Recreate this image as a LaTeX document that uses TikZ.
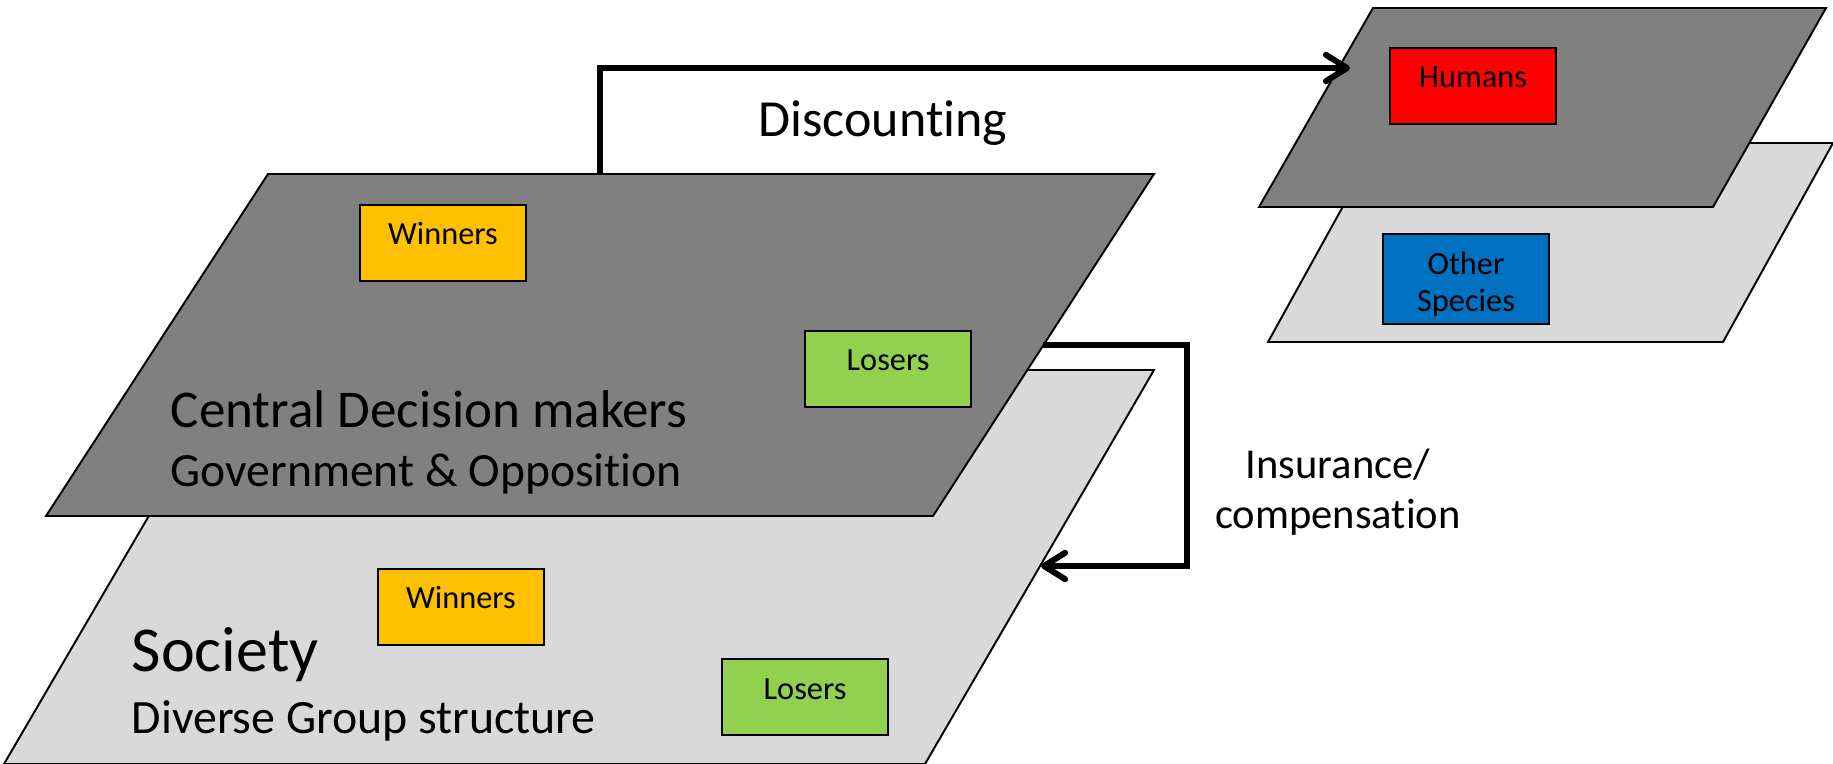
\documentclass[tikz,border=0pt]{standalone}
\usepackage{fontspec}
\setmainfont{Carlito}[Ligatures=NoCommon]
\usetikzlibrary{arrows.meta,positioning}
\definecolor{planedark}{HTML}{808080}
\definecolor{planelight}{HTML}{D9D9D9}
\definecolor{winyellow}{HTML}{FFC000}
\definecolor{losegreen}{HTML}{92D050}
\definecolor{humanred}{HTML}{FF0000}
\definecolor{speciesblue}{HTML}{0070C0}
\tikzset{
  plane/.style  = {draw, line width=0.55pt},
  upper/.style  = {plane, fill=planedark},
  lower/.style  = {plane, fill=planelight},
  actor/.style  = {draw, line width=0.6pt, inner sep=0pt, align=center,
                   minimum width=1.66cm, minimum height=0.76cm,
                   text height=0.2cm, text depth=0.16cm,
                   font=\fontsize{9.2}{10.4}\selectfont},
  winners/.style = {actor, fill=winyellow},
  losers/.style  = {actor, fill=losegreen},
  humans/.style  = {actor, fill=humanred},
  species/.style = {actor, fill=speciesblue, minimum height=0.9cm,
                    text height=0.646cm, text depth=0cm},
  link/.style    = {-{Straight Barb[round,length=6pt,width=7.5pt]}, black, line width=1.7pt},
}

\begin{document}
\begin{tikzpicture}[x=0.01cm, y=-0.01cm]
      \useasboundingbox (0,0) rectangle (1833,764);
      %planes, lower one first
      \draw[lower] (234,370) -- (1154,370) -- (925,764) -- (4,764) -- cycle;
      \draw[upper] (268,174) -- (1154,174) -- (933,516) -- (46,516) -- cycle;
      \draw[lower] (1378,143) -- (1833,143) -- (1723,342) -- (1268,342) -- cycle;
      \draw[upper] (1373,8) -- (1826,8) -- (1713,207) -- (1259,207) -- cycle;

      \node[winners] (win_top) at (443,243) {Winners};
      \node[losers] (lose_top) at (888,369) {Losers};
      \node[winners] (win_soc) at (461,607) {Winners};
      \node[losers] (lose_soc) at (805,697) {Losers};
      \node[humans] (humans) at (1473,86) {Humans};
      \node[species] (species) at (1466,279) {Other\\Species};

      \node[anchor=base west, inner sep=0pt, font=\fontsize{15.1}{18}\selectfont] (central) at (170,428) {Central Decision makers};
      \node[anchor=base west, inner sep=0pt, font=\fontsize{13.55}{16}\selectfont] (gov) at (170,487) {Government \& Opposition};
      \node[anchor=base west, inner sep=0pt, font=\fontsize{18.2}{22}\selectfont] (society) at (131,672) {Society};
      \node[anchor=base west, inner sep=0pt, font=\fontsize{13.6}{16}\selectfont] (diverse) at (131,733) {Diverse Group structure};
      \node[anchor=base, inner sep=0pt, font=\fontsize{14.8}{18}\selectfont] (discount) at (883,137) {Discounting};
      \node[anchor=base, inner sep=0pt, align=center, font=\fontsize{12.1}{14.2}\selectfont] (insure) at (1338,528) {Insurance/\\compensation};

      \coordinate (disc_from) at (600,174);
      \coordinate (disc_to) at (1350,68);
      \coordinate (ins_from) at (1043,345);
      \coordinate (ins_to) at (1041,566);
      \draw[link] (disc_from) |- (disc_to);
      \draw[link] (ins_from) -- ++(144,0) |- (ins_to);

  \end{tikzpicture}
\end{document}
